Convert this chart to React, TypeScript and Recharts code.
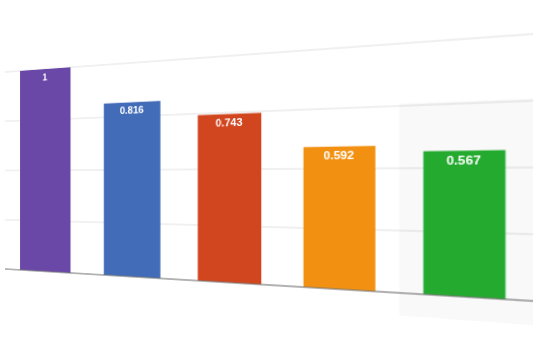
import {
  Bar,
  BarChart,
  CartesianGrid,
  Cell,
  LabelList,
  ReferenceArea,
  ReferenceLine,
  XAxis,
  YAxis,
} from 'recharts';

const categories = ['A', 'B', 'C', 'D', 'E'];
const values = [1, 0.816, 0.743, 0.592, 0.567];
const yTicks = [0, 0.25, 0.5, 0.75, 1];
const barColors = ['#6a48a8', '#436cb8', '#d1461f', '#f29111', '#24aa2f'];
const highlighted = 'E';

const data = categories.map((name, i) => ({ name, value: values[i] }));

// flat plot size, drawn normally and then tilted onto the page
const PLOT_W = 528;
const PLOT_H = 232;
const MARGIN = { top: 10, right: 0, bottom: 40, left: 0 };

// where the plot corners land after the tilt
const LEFT_X = 5;
const RIGHT_X = 533;
const LEFT_TOP = 72;
const LEFT_BOTTOM = 269;
const RIGHT_TOP = 34;
const RIGHT_BOTTOM = 301;

function tilt() {
  const wR = (LEFT_BOTTOM - LEFT_TOP) / (RIGHT_BOTTOM - RIGHT_TOP);
  const c = (wR - 1) / PLOT_W;
  const a = (RIGHT_X * wR - LEFT_X) / PLOT_W;
  const d = (LEFT_BOTTOM - LEFT_TOP) / PLOT_H;
  const e = (RIGHT_TOP * wR - LEFT_TOP) / PLOT_W;
  const f = LEFT_TOP - d * MARGIN.top;
  return `matrix3d(${a},${e},0,${c},0,${d},0,0,0,0,1,0,${LEFT_X},${f},0,1)`;
}

export default function App() {
  return (
    <div
      style={{
        position: 'absolute',
        left: 0,
        top: 0,
        width: 541,
        height: 354,
        overflow: 'hidden',
        background: '#fff',
      }}
    >
      <div
        style={{
          position: 'absolute',
          left: 0,
          top: 0,
          transformOrigin: '0 0',
          transform: tilt(),
        }}
      >
        <BarChart
          width={PLOT_W + MARGIN.left + MARGIN.right}
          height={PLOT_H + MARGIN.top + MARGIN.bottom}
          data={data}
          margin={MARGIN}
          barCategoryGap="19%"
        >
          <CartesianGrid vertical={false} stroke="#e2e2e2" strokeWidth={1.2} />
          <XAxis dataKey="name" hide />
          <YAxis domain={[0, 1]} ticks={yTicks} hide />
          {/* faint hover band behind the last bar */}
          <ReferenceArea
            x1={highlighted}
            x2={highlighted}
            y1={-0.09}
            y2={0.76}
            ifOverflow="visible"
            fill="#000"
            fillOpacity={0.025}
            stroke="none"
          />
          <Bar dataKey="value" isAnimationActive={false}>
            {data.map((entry, i) => (
              <Cell key={entry.name} fill={barColors[i]} />
            ))}
            <LabelList
              dataKey="value"
              position="insideTop"
              offset={5}
              fill="#fff"
              fontSize={11}
              fontWeight="bold"
              fontFamily="'Liberation Sans', Arial, sans-serif"
            />
          </Bar>
          <ReferenceLine y={0} stroke="#777" strokeWidth={1.2} />
        </BarChart>
      </div>
    </div>
  );
}
